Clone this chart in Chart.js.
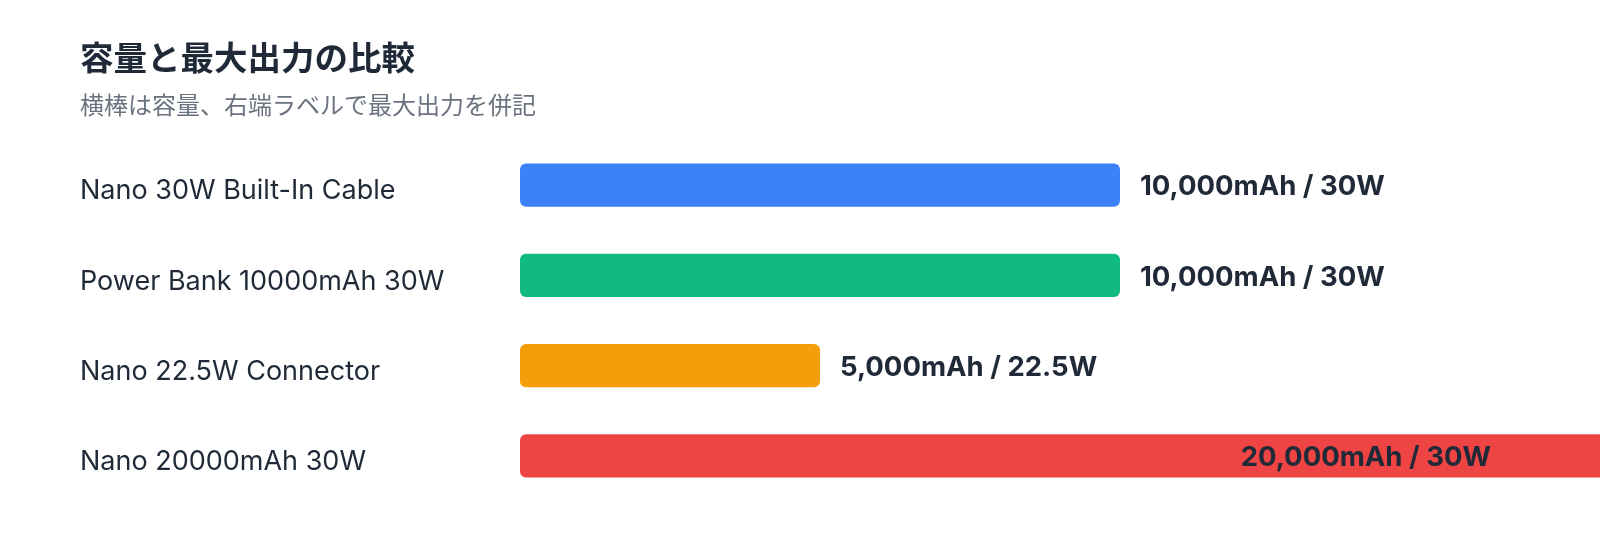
<!DOCTYPE html>
<html>
<head>
<meta charset="utf-8">
<script src="https://cdn.jsdelivr.net/npm/chart.js@4"></script>
<style>
  html, body { margin: 0; padding: 0; background: #ffffff; }
  #wrap { width: 1600px; height: 560px; }
</style>
</head>
<body>
<div id="wrap"><canvas id="chart"></canvas></div>
<script>
const models = ['Nano 30W Built-In Cable', 'Power Bank 10000mAh 30W', 'Nano 22.5W Connector', 'Nano 20000mAh 30W'];
const capacity = [10000, 10000, 5000, 20000];
const outputW = [30, 30, 22.5, 30];
const barColors = ['#3b82f6', '#10b981', '#f59e0b', '#ef4444'];
const xMax = 16000;

const FONT = "Inter, 'Noto Sans CJK JP', sans-serif";

// 右端ラベル: 容量 / 最大出力
const valueLabels = {
    id: 'valueLabels',
    afterDatasetsDraw(chart) {
        const ctx = chart.ctx;
        const meta = chart.getDatasetMeta(0);
        ctx.save();
        ctx.font = `bold 27.5px ${FONT}`;
        ctx.fillStyle = '#1f2937';
        ctx.textBaseline = 'middle';
        ctx.textAlign = 'left';
        meta.data.forEach((bar, i) => {
            const text = `${capacity[i].toLocaleString('en-US')}mAh / ${outputW[i]}W`;
            const w = ctx.measureText(text).width;
            const x = Math.min(bar.x + 20, chart.width - 109 - w);
            ctx.fillText(text, x, bar.y + 2);
        });
        ctx.restore();
    }
};

new Chart(document.getElementById('chart'), {
    type: 'bar',
    data: {
        labels: models,
        datasets: [{
            data: capacity,
            backgroundColor: barColors,
            borderRadius: 6,
            borderSkipped: false,
            barPercentage: 0.48,
            categoryPercentage: 1,
            clip: false
        }]
    },
    options: {
        indexAxis: 'y',
        responsive: true,
        maintainAspectRatio: false,
        animation: false,
        layout: { padding: { top: 20, right: 120, bottom: 59, left: 80 } },
        scales: {
            x: { display: false, min: 0, max: xMax },
            y: {
                grid: { display: false, drawTicks: false },
                border: { display: false },
                ticks: {
                    crossAlign: 'far',
                    padding: 0,
                    labelOffset: 6,
                    color: '#1f2937',
                    font: { family: FONT, size: 27 }
                },
                afterFit(scale) { scale.width = 440; }
            }
        },
        plugins: {
            legend: { display: false },
            tooltip: { enabled: false },
            title: {
                display: true,
                text: '容量と最大出力の比較',
                align: 'start',
                color: '#1f2937',
                font: { family: FONT, size: 33.5, weight: 'bold', lineHeight: 1.2 },
                padding: { top: 20, bottom: 12 }
            },
            subtitle: {
                display: true,
                text: '横棒は容量、右端ラベルで最大出力を併記',
                align: 'start',
                color: '#6b7280',
                font: { family: FONT, size: 24, lineHeight: 1.2 },
                padding: { top: 0, bottom: 19 }
            }
        }
    },
    plugins: [valueLabels]
});
</script>
</body>
</html>
